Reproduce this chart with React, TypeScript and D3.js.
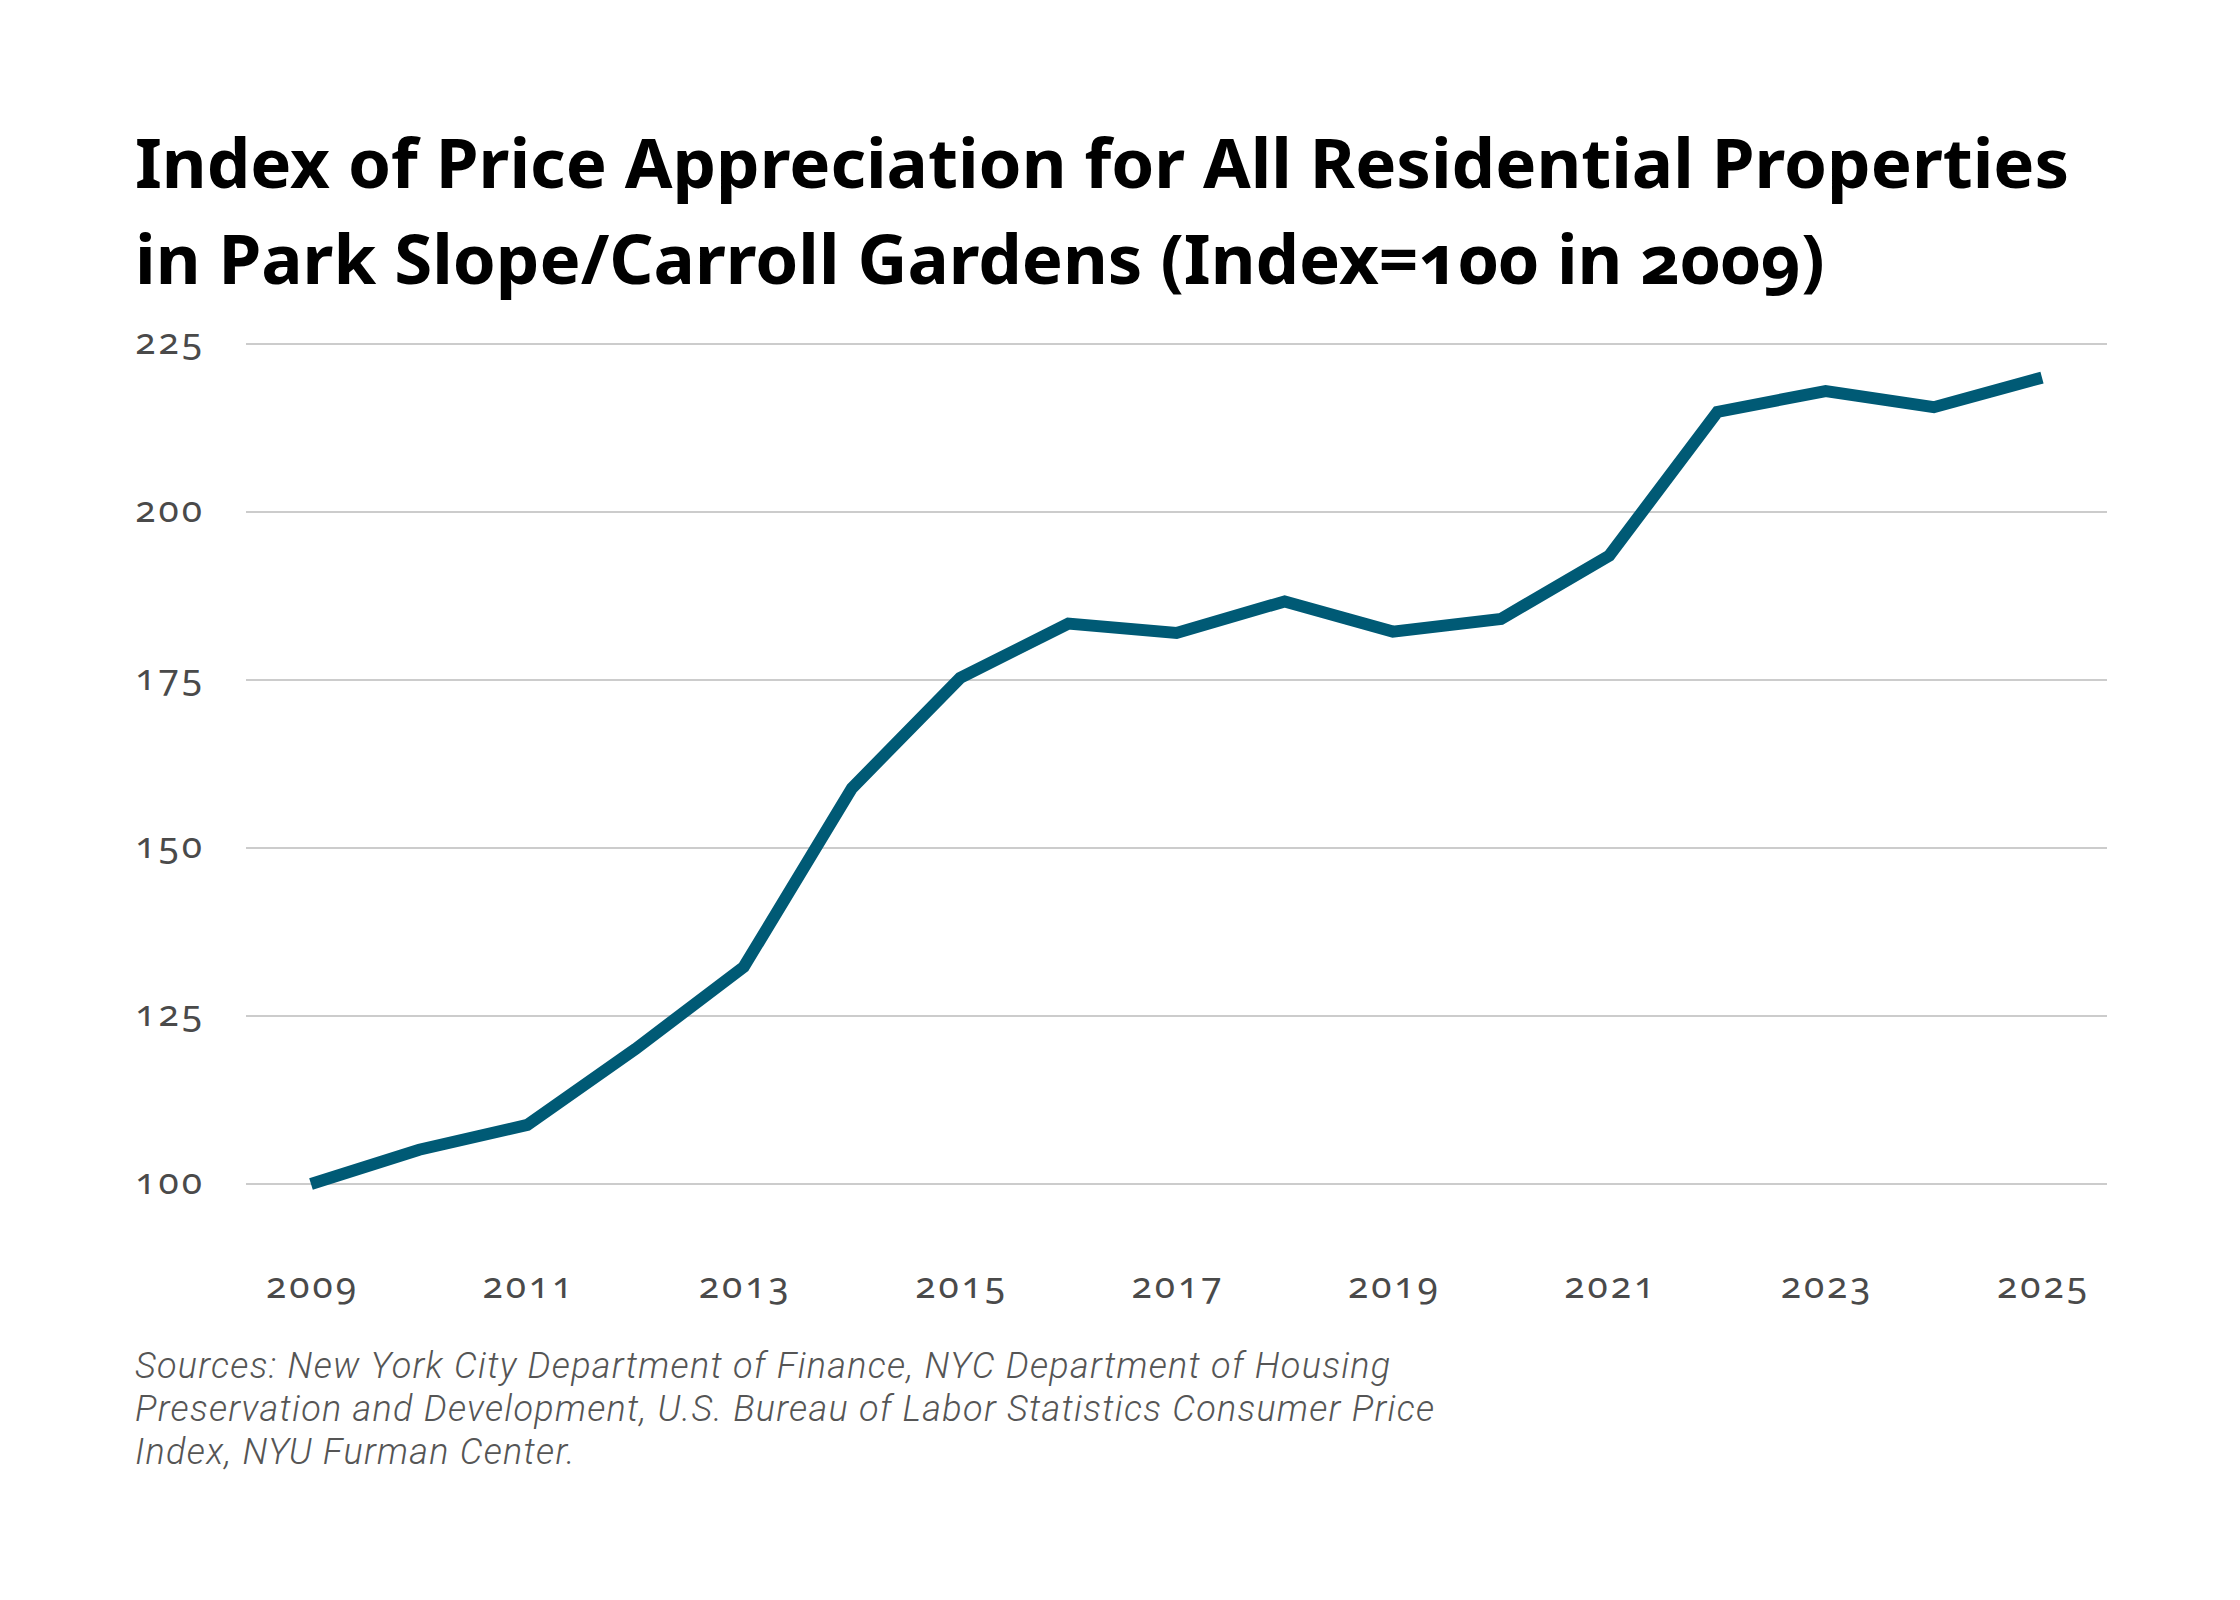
import { useMemo } from "react";
import * as d3 from "d3";

const WIDTH = 2240;
const HEIGHT = 1600;

const TITLE_LINES = [
  "Index of Price Appreciation for All Residential Properties",
  "in Park Slope/Carroll Gardens (Index=100 in 2009)",
];
const SOURCE_LINES = [
  "Sources: New York City Department of Finance, NYC Department of Housing",
  "Preservation and Development, U.S. Bureau of Labor Statistics Consumer Price",
  "Index, NYU Furman Center.",
];

const years = [2009, 2010, 2011, 2012, 2013, 2014, 2015, 2016, 2017, 2018, 2019, 2020, 2021, 2022, 2023, 2024, 2025];
const indexValues = [100, 105.1, 108.8, 120.1, 132.3, 158.9, 175.3, 183.4, 182.0, 186.7, 182.2, 184.1, 193.5, 214.9, 218.0, 215.6, 220.0];
const yTicks = [100, 125, 150, 175, 200, 225];
const xTicks = [2009, 2011, 2013, 2015, 2017, 2019, 2021, 2023, 2025];

const LINE_COLOR = "#005a75";
const GRID_LEFT = 246;
const GRID_RIGHT = 2107;
const LABEL_LS = 3;

export default function App() {
  const xScale = useMemo(() => d3.scaleLinear().domain([2009, 2025]).range([311, 2042]), []);
  const yScale = useMemo(() => d3.scaleLinear().domain([100, 225]).range([1184, 344]), []);

  const linePath = useMemo(() => {
    const gen = d3
      .line<number>()
      .x((_, i) => xScale(years[i]))
      .y((d) => yScale(d));
    return gen(indexValues) ?? "";
  }, [xScale, yScale]);

  const numStyle = { fontVariantNumeric: "oldstyle-nums" as const };

  return (
    <svg
      width={WIDTH}
      height={HEIGHT}
      style={{ position: "absolute", left: 0, top: 0, display: "block", background: "#fff" }}
    >
      {/* title */}
      <g fontFamily="'Noto Sans', 'Open Sans', sans-serif" fontWeight={700} fontSize={69} fill="#000" style={numStyle}>
        {TITLE_LINES.map((t, i) => (
          <text key={i} x={135} y={188 + i * 96}>
            {t}
          </text>
        ))}
      </g>

      {/* grid lines + y labels */}
      <g>
        {yTicks.map((t) => (
          <g key={t}>
            <line x1={GRID_LEFT} x2={GRID_RIGHT} y1={yScale(t)} y2={yScale(t)} stroke="#cccccc" strokeWidth={2} />
            <text
              x={202 + LABEL_LS}
              y={yScale(t) + 10}
              textAnchor="end"
              fontFamily="'Noto Sans', sans-serif"
              fontSize={37}
              fill="#4a4a4a"
              letterSpacing={LABEL_LS}
              style={numStyle}
            >
              {t}
            </text>
          </g>
        ))}
      </g>

      {/* x labels */}
      <g>
        {xTicks.map((t) => (
          <text
            key={t}
            x={xScale(t) + LABEL_LS / 2}
            y={1298}
            textAnchor="middle"
            fontFamily="'Noto Sans', sans-serif"
            fontSize={37}
            fill="#4a4a4a"
            letterSpacing={LABEL_LS}
            style={numStyle}
          >
            {t}
          </text>
        ))}
      </g>

      <path d={linePath} fill="none" stroke={LINE_COLOR} strokeWidth={12} strokeLinejoin="miter" strokeLinecap="butt" />

      {/* sources note */}
      <g fontFamily="Roboto, sans-serif" fontStyle="italic" fontWeight={300} fontSize={36} letterSpacing={1.3} fill="#555">
        {SOURCE_LINES.map((t, i) => (
          <text key={i} x={135} y={1378 + i * 43}>
            {t}
          </text>
        ))}
      </g>
    </svg>
  );
}
